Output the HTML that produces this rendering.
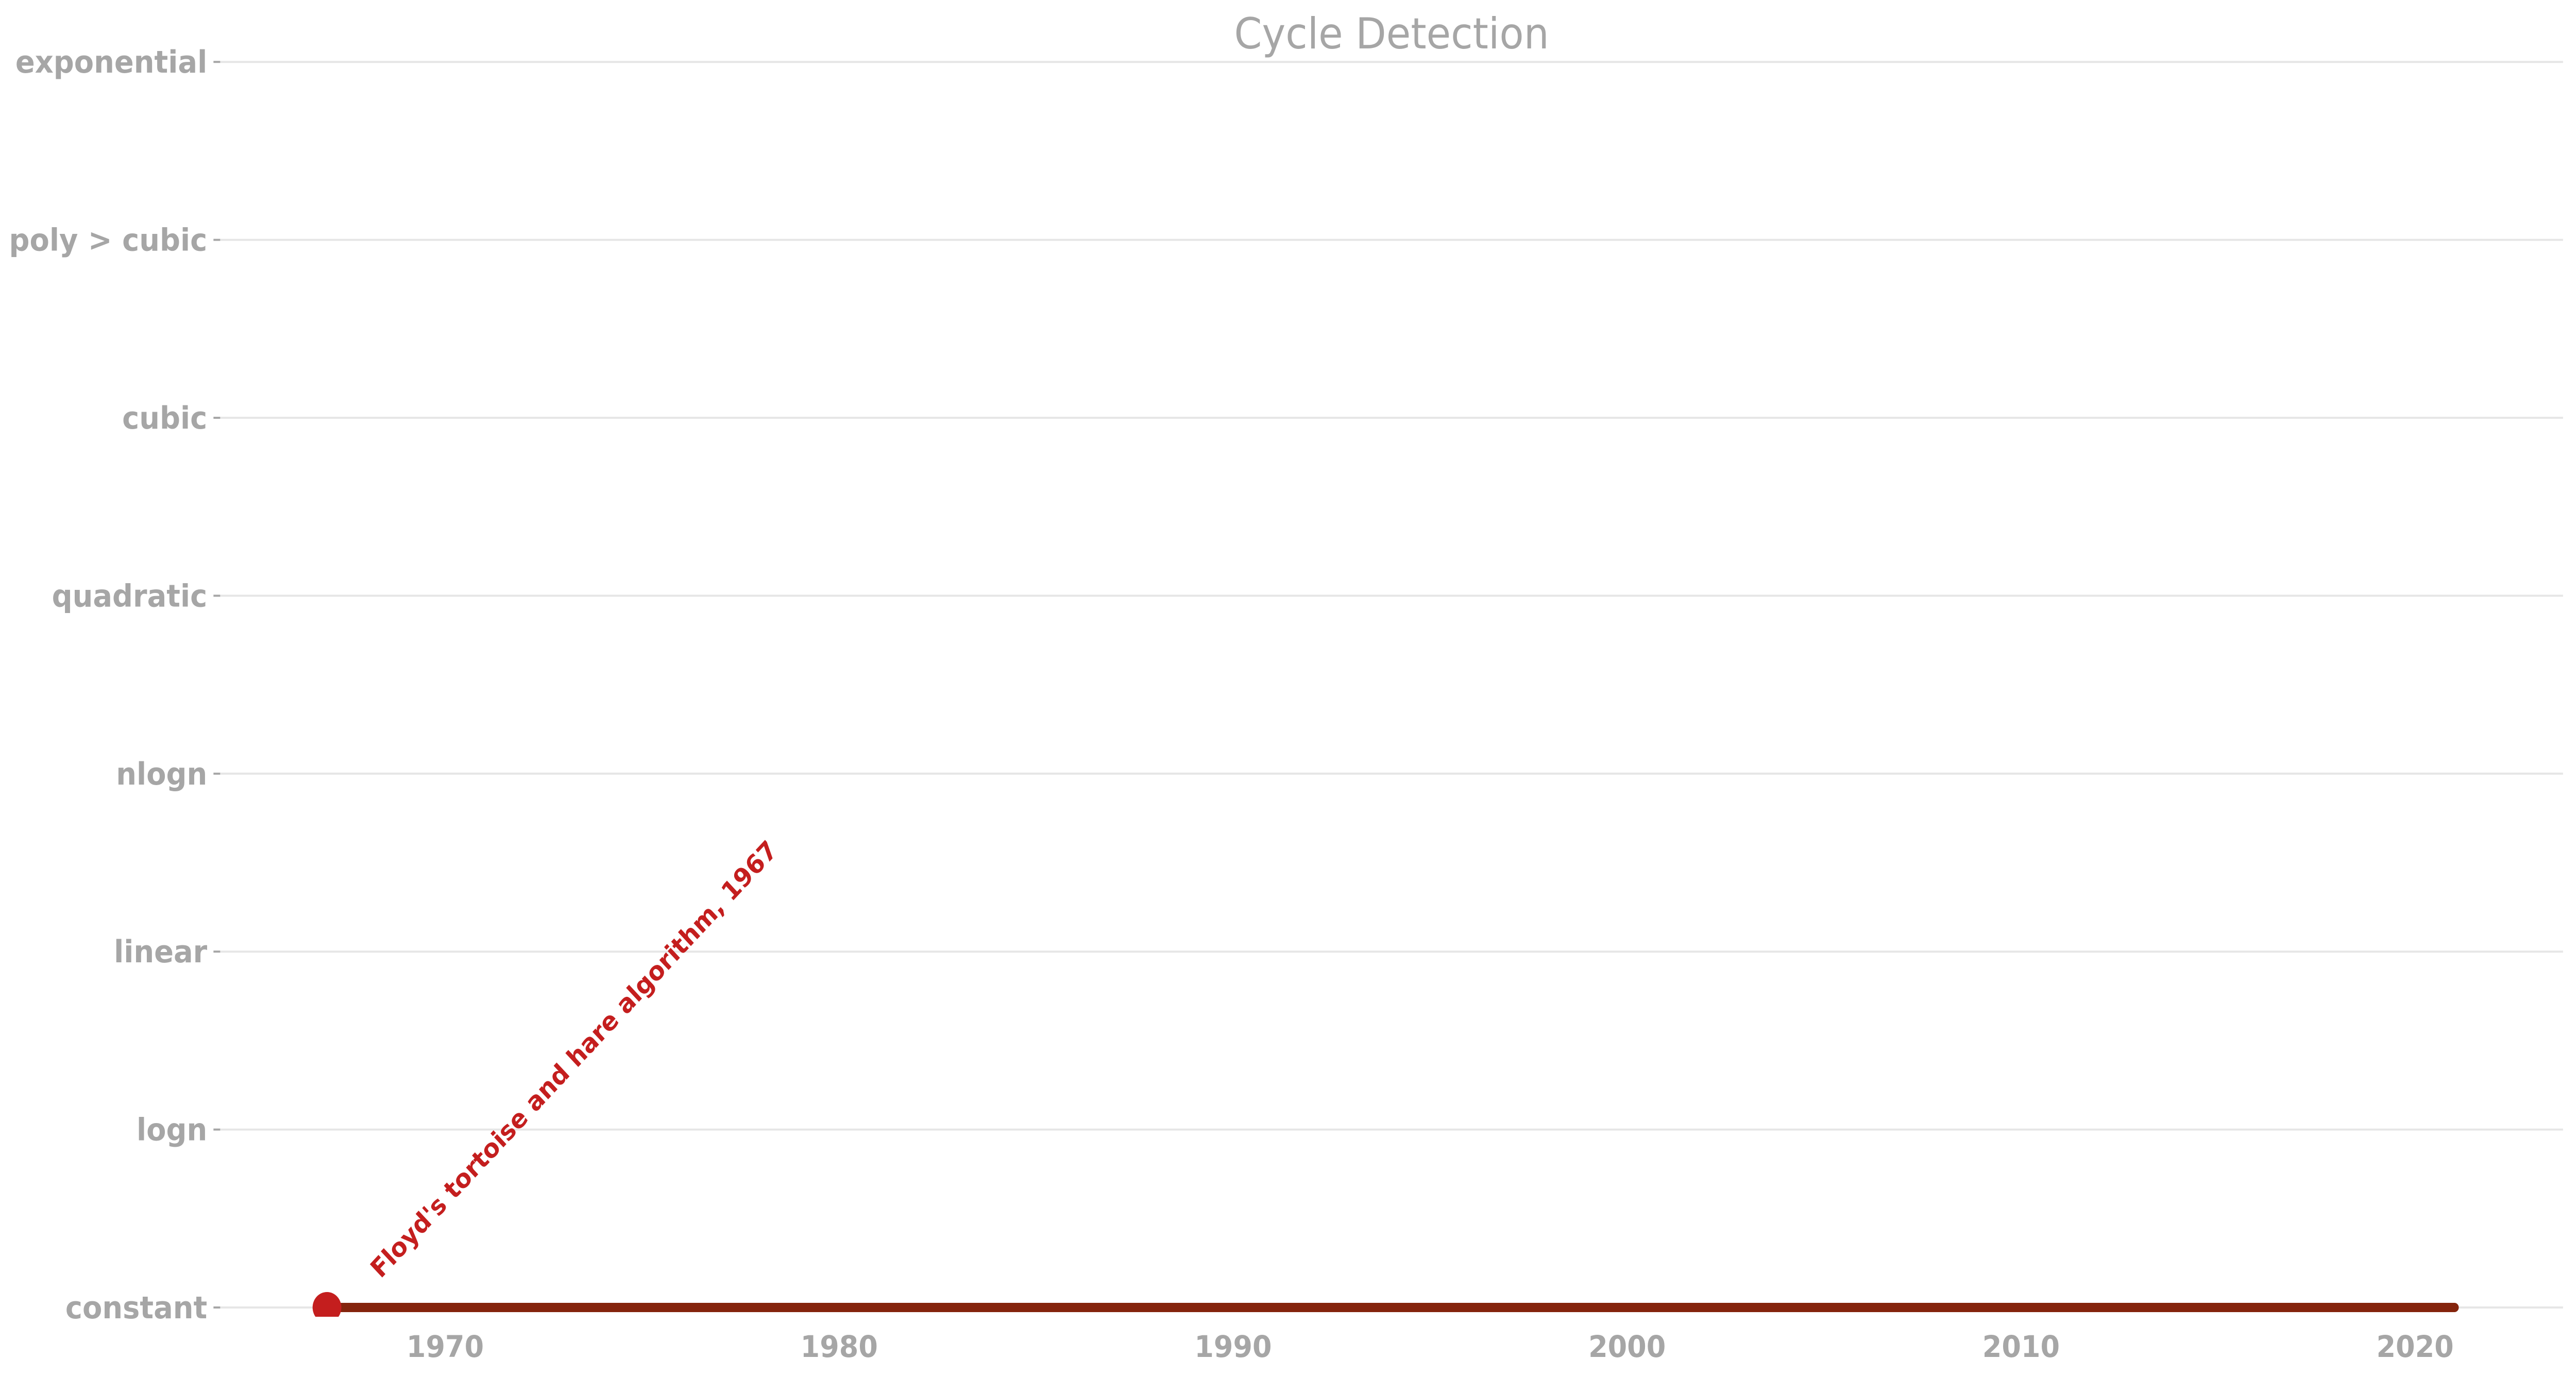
<!DOCTYPE html>
<html><head><meta charset="utf-8"><style>
html,body{margin:0;padding:0;background:#fff;width:100%;height:100%;overflow:hidden;}
svg{display:block;position:absolute;left:0;top:0;width:100vw;height:2671px;font-family:"DejaVu Sans","Liberation Sans",sans-serif;}
</style></head><body>
<svg id="chart" viewBox="0 0 5370 2671" preserveAspectRatio="none" xmlns="http://www.w3.org/2000/svg">
<defs><clipPath id="plotclip"><rect x="459" y="0" width="4900" height="2556"/></clipPath></defs>
<text x="2901" y="94" text-anchor="middle" font-size="83" fill="#a6a6a6">Cycle Detection</text>
<g id="grid"></g>
<g id="yaxis"></g>
<g id="xaxis"></g>
<g id="series" clip-path="url(#plotclip)"></g>
<g id="annot"></g>
</svg>
<script>
const categories = ["constant","logn","linear","nlogn","quadratic","cubic","poly > cubic","exponential"];
const xTicks = [1970,1980,1990,2000,2010,2020];
const seriesYears = [1967, 2021];
const seriesLevels = [0, 0];
const annotYears = [1967];
const annotLevels = [0];
const annotLabels = ["Floyd's tortoise and hare algorithm, 1967"];

const NS="http://www.w3.org/2000/svg";
function X(yr){return 928+(yr-1970)*82.13;}
function Y(l){return 2538-l*345.4;}
function mk(tag,attrs,parent){const e=document.createElementNS(NS,tag);for(const k in attrs)e.setAttribute(k,attrs[k]);parent.appendChild(e);return e;}
const grid=document.getElementById('grid'),ya=document.getElementById('yaxis'),xa=document.getElementById('xaxis'),se=document.getElementById('series'),an=document.getElementById('annot');
categories.forEach((c,i)=>{
  const y=Y(i);
  const g=mk('line',{x1:459,x2:5343,y1:y,y2:y,stroke:'#e6e6e6','stroke-width':4},grid);
  
  
  const t=mk('line',{x1:445,x2:459,y1:y,y2:y,stroke:'#a6a6a6','stroke-width':4},ya);
  
  
  const tx=mk('text',{x:432,y:y+21,'text-anchor':'end','font-size':60,'font-weight':'bold',fill:'#a6a6a6'},ya);
  tx.textContent=c;
  
  
});
xTicks.forEach(v=>{
  const tx=mk('text',{x:X(v),y:2634,'text-anchor':'middle','font-size':58,'font-weight':'bold',fill:'#a6a6a6'},xa);
  tx.textContent=v;
  
  
});
const pts=seriesYears.map((yr,i)=>X(yr)+','+Y(seriesLevels[i])).join(' ');
const pl=mk('polyline',{points:pts,fill:'none',stroke:'#84240c','stroke-width':18,'stroke-linecap':'round'},se);


annotYears.forEach((yr,i)=>{
  const c=mk('circle',{cx:X(yr),cy:Y(annotLevels[i]),r:30,fill:'#c41e1e'},se);
  
  
  const x0=X(yr)+112,y0=Y(annotLevels[i])-55;
  const t=mk('text',{x:x0,y:y0,'font-size':50,'font-weight':'bold',fill:'#c41e1e',transform:'rotate(-45 '+x0+' '+y0+')'},an);
  t.textContent=annotLabels[i];
  
  
});
</script>
</body></html>
